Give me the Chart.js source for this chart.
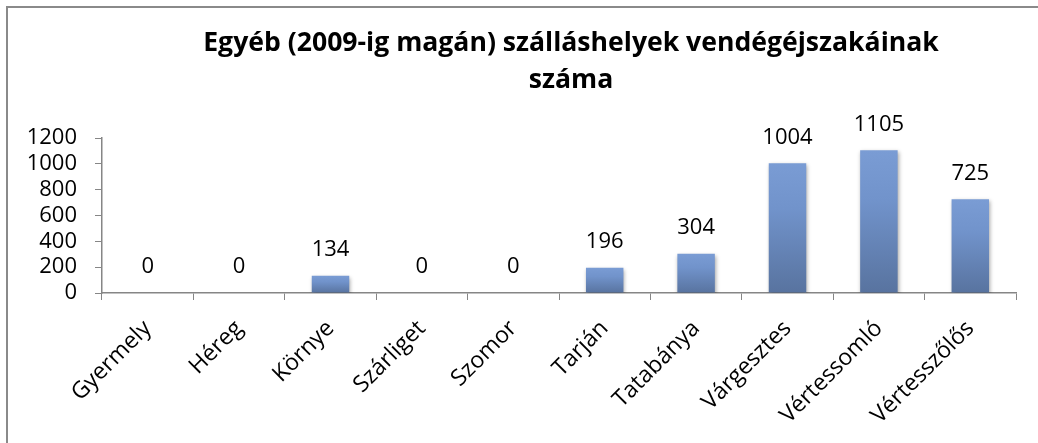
<!DOCTYPE html>
<html>
<head>
<meta charset="utf-8">
<script src="https://cdn.jsdelivr.net/npm/chart.js@4/dist/chart.umd.min.js"></script>
<style>
  html, body { margin: 0; padding: 0; background: #fff; overflow: hidden; }
  #wrap { position: relative; width: 1038px; height: 443px; }
  #frame { position: absolute; left: 6px; top: 6px; right: -10px; bottom: -10px;
           border-top: 2px solid #8a8a8a; border-left: 2px solid #8a8a8a; }
  canvas { position: absolute; left: 0; top: 0; }
</style>
</head>
<body>
<div id="wrap">
  <div id="frame"></div>
  <canvas id="c" width="1038" height="443"></canvas>
</div>
<script>
// adatok
const titleLines = ['Egyéb (2009-ig magán) szálláshelyek vendégéjszakáinak', 'száma'];
const places = ['Gyermely', 'Héreg', 'Környe', 'Szárliget', 'Szomor', 'Tarján', 'Tatabánya', 'Várgesztes', 'Vértessomló', 'Vértesszőlős'];
const nights = [0, 0, 134, 0, 0, 196, 304, 1004, 1105, 725];
const yTicks = [0, 200, 400, 600, 800, 1000, 1200];

const FONT = '"Open Sans", Lato, sans-serif';
const AXIS = '#868686';

// cím rajzolása (két sor, középre) – a betűméret az első sor ~735px-es szélességéhez igazodik
const titlePlugin = {
  id: 'twoLineTitle',
  afterDraw(chart) {
    const ctx = chart.ctx;
    ctx.save();
    ctx.font = `bold 24px ${FONT}`;
    const w = ctx.measureText(titleLines[0]).width;
    const size = Math.max(22, Math.min(27, 24 * 735 / w));
    ctx.font = `bold ${size.toFixed(1)}px ${FONT}`;
    ctx.fillStyle = '#000';
    ctx.textAlign = 'center';
    ctx.textBaseline = 'alphabetic';
    titleLines.forEach((t, i) => ctx.fillText(t, 571, 51 + i * 37));
    ctx.restore();
  }
};

// értékcímkék a hasábok fölött
const valueLabels = {
  id: 'valueLabels',
  afterDatasetsDraw(chart) {
    const ctx = chart.ctx;
    const meta = chart.getDatasetMeta(0);
    ctx.save();
    ctx.font = `22px ${FONT}`;
    ctx.fillStyle = '#000';
    ctx.textAlign = 'center';
    ctx.textBaseline = 'middle';
    meta.data.forEach((bar, i) => {
      ctx.fillText(String(nights[i]), bar.x, bar.y - 26);
    });
    ctx.restore();
  }
};

// halvány árnyék a hasábokon
const barShadow = {
  id: 'barShadow',
  beforeDatasetsDraw(chart) {
    const ctx = chart.ctx;
    ctx.save();
    ctx.shadowColor = 'rgba(0,0,0,0.35)';
    ctx.shadowBlur = 4;
    ctx.shadowOffsetX = 1;
    ctx.shadowOffsetY = 2;
  },
  afterDatasetsDraw(chart) {
    chart.ctx.restore();
  }
};

function barFill(context) {
  const chart = context.chart;
  const y = chart.scales.y;
  if (!y || !chart.chartArea) return '#6f8fc6';
  const v = context.raw || 0;
  const top = y.getPixelForValue(v);
  const bottom = y.getPixelForValue(0);
  if (!Number.isFinite(top) || !Number.isFinite(bottom) || bottom - top < 1) return '#6f8fc6';
  const g = chart.ctx.createLinearGradient(0, top, 0, bottom);
  g.addColorStop(0, '#7a9cd4');
  g.addColorStop(0.35, '#7193cb');
  g.addColorStop(1, '#58739f');
  return g;
}

new Chart(document.getElementById('c'), {
  type: 'bar',
  data: {
    labels: places,
    datasets: [{
      data: nights,
      backgroundColor: barFill,
      borderWidth: 0,
      categoryPercentage: 1,
      barPercentage: 0.41
    }]
  },
  options: {
    responsive: false,
    animation: false,
    layout: { padding: { left: 0, right: 22, top: 138, bottom: 0 } },
    plugins: { legend: { display: false }, tooltip: { enabled: false }, title: { display: false } },
    scales: {
      x: {
        grid: { display: true, drawOnChartArea: false, drawTicks: true, tickLength: 7, color: AXIS, offset: true },
        border: { display: true, color: AXIS, width: 1.5 },
        ticks: { color: '#000', font: { family: FONT, size: 23 }, minRotation: 45, maxRotation: 45, padding: 15, autoSkip: false },
        afterFit(s) { s.height = 150; }
      },
      y: {
        min: 0, max: 1200,
        afterBuildTicks(s) { s.ticks = yTicks.map(v => ({ value: v })); },
        grid: { display: true, drawOnChartArea: false, drawTicks: true, tickLength: 7, color: AXIS },
        border: { display: true, color: AXIS, width: 1.5 },
        ticks: { color: '#000', font: { family: FONT, size: 22 }, padding: 18, autoSkip: false, callback: v => String(v) },
        afterFit(s) { s.width = 102; }
      }
    }
  },
  plugins: [barShadow, valueLabels, titlePlugin]
});
</script>
</body>
</html>
